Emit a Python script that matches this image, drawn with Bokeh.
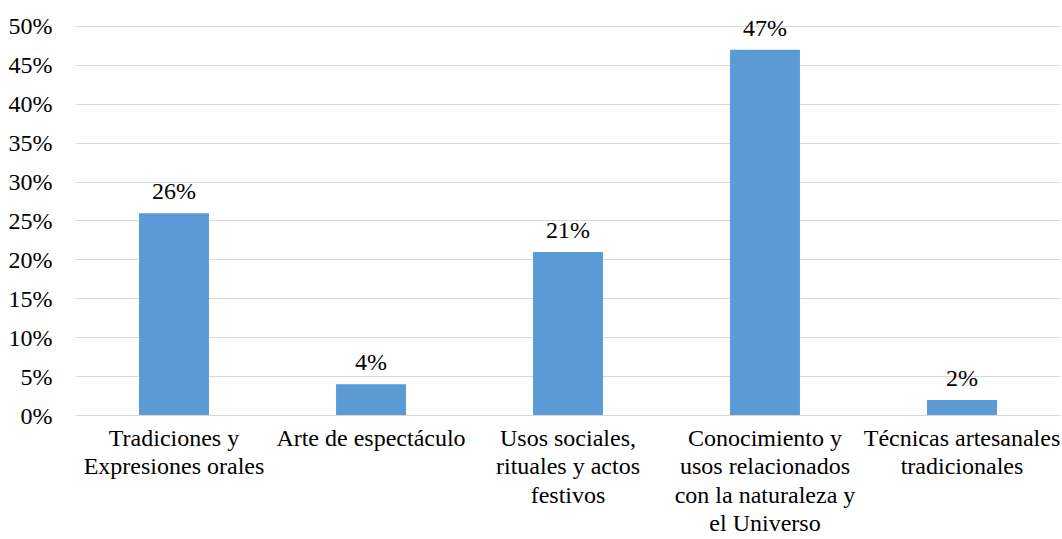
from bokeh.plotting import figure
from bokeh.models import ColumnDataSource, FixedTicker, NumeralTickFormatter
from bokeh.core.properties import value
from bokeh.embed import file_html
from bokeh.resources import INLINE

categories = ["Tradiciones y\nExpresiones orales", "Arte de espectáculo",
              "Usos sociales,\nrituales y actos\nfestivos",
              "Conocimiento y\nusos relacionados\ncon la naturaleza y\nel Universo",
              "Técnicas artesanales\ntradicionales"]
values = [0.26, 0.04, 0.21, 0.47, 0.02]
labels = ["26%", "4%", "21%", "47%", "2%"]
y_ticks = [0, 0.05, 0.10, 0.15, 0.20, 0.25, 0.30, 0.35, 0.40, 0.45, 0.50]

FONT = "Liberation Serif"
FS = "24px"

src = ColumnDataSource(dict(cat=categories, val=values, lab=labels))

p = figure(width=1062, height=539, x_range=categories, y_range=(0, 0.523),
           output_backend="svg", toolbar_location=None,
           min_border_left=75, min_border_right=2, min_border_top=8, min_border_bottom=100)
p.outline_line_color = None
p.x_range.range_padding = 0

p.vbar(x="cat", top="val", width=0.355, source=src, color="#5b9bd5", line_color=None)
p.text(x="cat", y="val", text="lab", source=src, text_align="center", text_baseline="bottom",
       y_offset=-9, text_font=value(FONT), text_font_size=FS, text_color="#000000")

p.yaxis.ticker = FixedTicker(ticks=y_ticks)
p.yaxis.formatter = NumeralTickFormatter(format="0%")
p.yaxis.axis_line_color = None
p.yaxis.major_tick_line_color = None
p.yaxis.minor_tick_line_color = None
p.yaxis.major_label_text_font = FONT
p.yaxis.major_label_text_font_size = FS
p.yaxis.major_label_text_color = "#000000"
p.yaxis.major_label_standoff = 17

p.xaxis.axis_line_color = "#d9d9d9"
p.xaxis.major_tick_line_color = None
p.xaxis.minor_tick_line_color = None
p.xaxis.major_label_text_font = FONT
p.xaxis.major_label_text_font_size = FS
p.xaxis.major_label_text_color = "#000000"
p.xaxis.major_label_standoff = 3
p.xaxis.major_label_text_line_height = 1.1

p.xgrid.grid_line_color = None
p.ygrid.grid_line_color = "#d9d9d9"
p.ygrid.grid_line_width = 1

open("out.html", "w").write(file_html(p, INLINE))
